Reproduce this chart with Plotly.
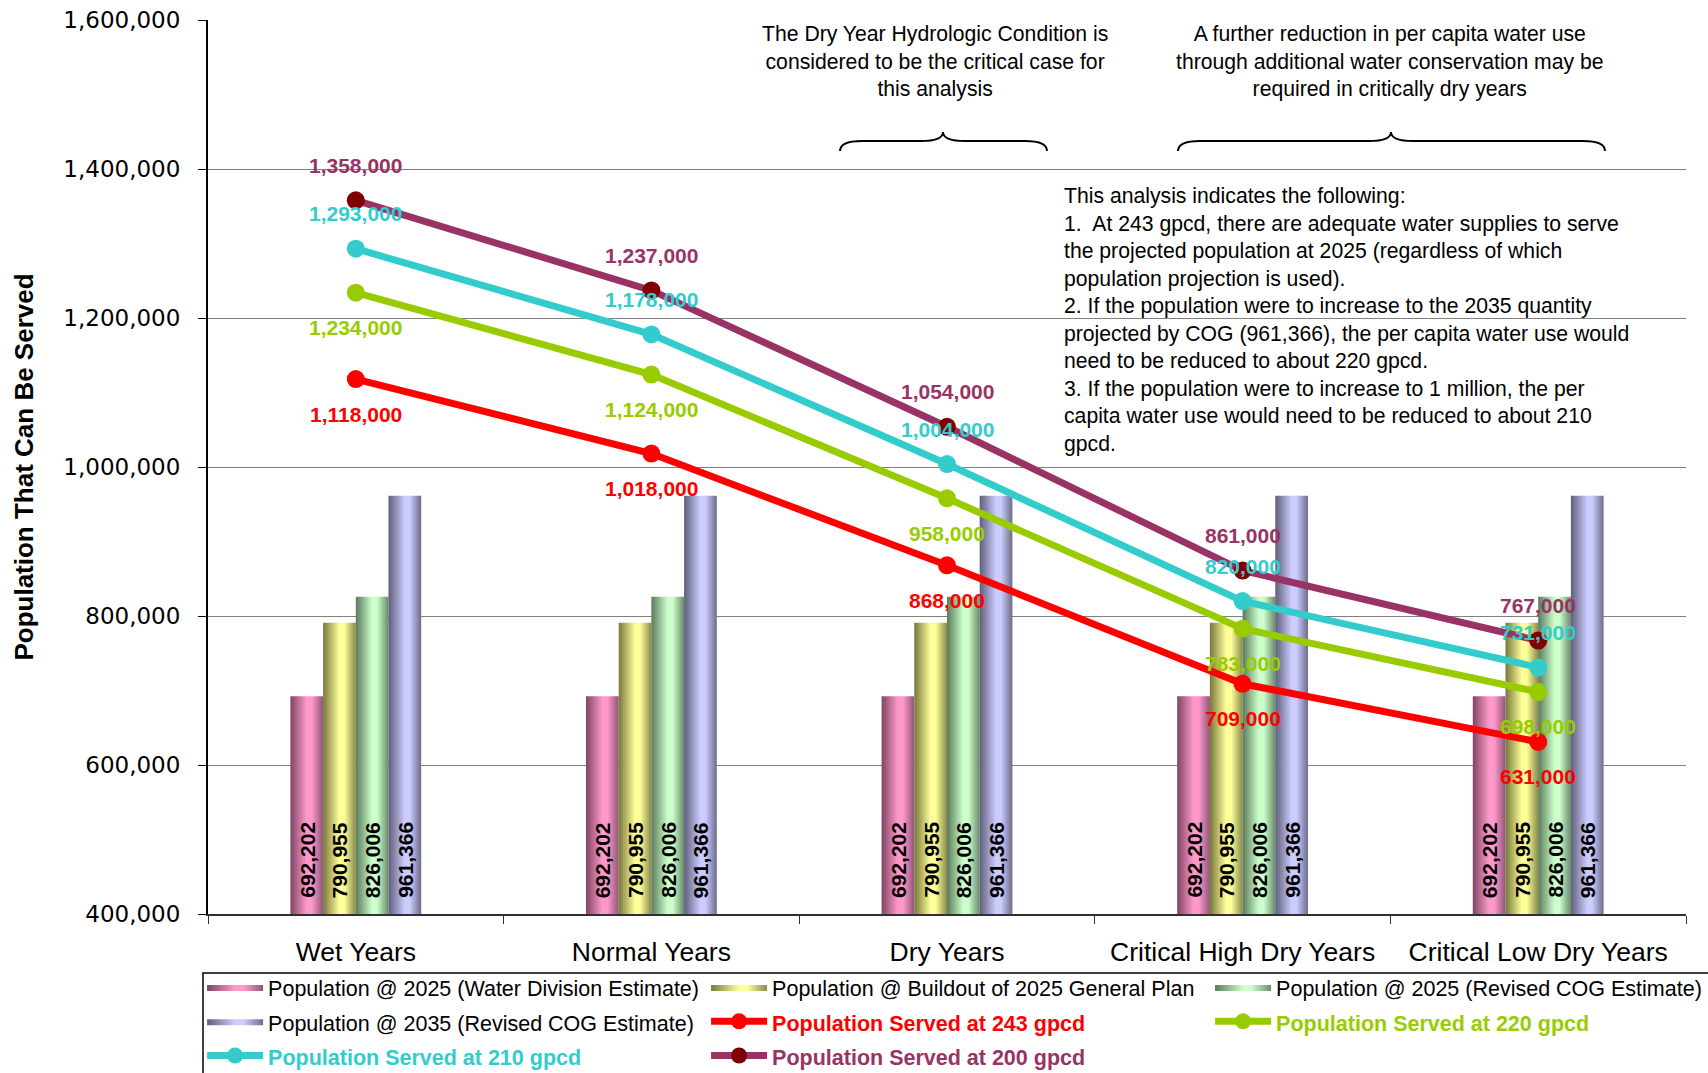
import plotly.graph_objects as go

# ---- data -------------------------------------------------------------
categories = ["Wet Years", "Normal Years", "Dry Years",
              "Critical High Dry Years", "Critical Low Dry Years"]

pop_2025_water_div = [692202, 692202, 692202, 692202, 692202]
pop_buildout_2025 = [790955, 790955, 790955, 790955, 790955]
pop_2025_cog = [826006, 826006, 826006, 826006, 826006]
pop_2035_cog = [961366, 961366, 961366, 961366, 961366]

served_243 = [1118000, 1018000, 868000, 709000, 631000]
served_220 = [1234000, 1124000, 958000, 783000, 698000]
served_210 = [1293000, 1178000, 1004000, 820000, 731000]
served_200 = [1358000, 1237000, 1054000, 861000, 767000]

y_ticks = [400000, 600000, 800000, 1000000, 1200000, 1400000, 1600000]

# ---- styling ----------------------------------------------------------
W, H = 1708, 1073
M_L, M_R, M_T, M_B = 208, 22, 20, 159
PLOT_W = W - M_L - M_R
PLOT_H = H - M_T - M_B

FONT = "Liberation Sans, Arial, sans-serif"
TICK_FONT = "DejaVu Sans, Verdana, sans-serif"

bar_series = [
    ("Population @ 2025 (Water Division Estimate)", pop_2025_water_div,
     ["#7d4563", "#ff99cc", "#ff99cc", "#8f5676"]),
    ("Population @ Buildout of 2025 General Plan", pop_buildout_2025,
     ["#77773c", "#ffff99", "#ffff99", "#8a8a4a"]),
    ("Population @ 2025 (Revised COG Estimate)", pop_2025_cog,
     ["#5b7a5b", "#ccffcc", "#ccffcc", "#6a8a6a"]),
    ("Population @ 2035 (Revised COG Estimate)", pop_2035_cog,
     ["#5e5e7a", "#ccccff", "#ccccff", "#6c6c8a"]),
]

line_series = [
    ("Population Served at 243 gpcd", served_243, "#ff0000", "#ff0000", -1),
    ("Population Served at 220 gpcd", served_220, "#99cc00", "#99cc00", -1),
    ("Population Served at 210 gpcd", served_210, "#33cccc", "#33cccc", 1),
    ("Population Served at 200 gpcd", served_200, "#993366", "#800000", 1),
]

BAR_W = 0.1106  # width of one bar in category units


def legend_label(text, color="black", bold=False):
    inner = f"<span style='font-size:21.5px;color:{color}'>{text}</span>"
    return f"<b>{inner}</b>" if bold else inner


fig = go.Figure()

# ---- shaded (cylinder-like) bars --------------------------------------
annotations = []
for j, (name, values, shades) in enumerate(bar_series):
    off = (j - 1.5) * BAR_W
    for i, v in enumerate(values):
        x0, x1 = i + off - BAR_W / 2, i + off + BAR_W / 2
        fig.add_trace(go.Scatter(
            x=[x0, x1, x1, x0, x0], y=[0, 0, v, v, 0],
            mode="lines", fill="toself",
            line=dict(width=0, color=shades[0]),
            fillgradient=dict(type="horizontal",
                              colorscale=[[0, shades[0]], [0.5, shades[1]],
                                          [0.65, shades[2]], [1, shades[3]]]),
            name=legend_label(name), legendgroup=name, showlegend=(i == 0),
            hoverinfo="skip",
        ))
        annotations.append(dict(
            x=i + off, y=y_ticks[0], xref="x", yref="y",
            text=f"{v:,}", textangle=-90, showarrow=False,
            xanchor="center", yanchor="bottom", yshift=14,
            font=dict(family=FONT, size=21, color="black", weight="bold"),
        ))

# ---- served-population lines -----------------------------------------
x_idx = list(range(len(categories)))
for name, values, lcolor, mcolor, side in line_series:
    fig.add_trace(go.Scatter(
        x=x_idx, y=values, mode="lines+markers",
        line=dict(color=lcolor, width=7),
        marker=dict(color=mcolor, size=18),
        name=legend_label(name, lcolor, bold=True),
        hoverinfo="skip",
    ))
    for i, v in enumerate(values):
        annotations.append(dict(
            x=i, y=v, xref="x", yref="y", text=f"{v:,}", showarrow=False,
            yshift=35 * side, xanchor="center", yanchor="middle",
            font=dict(family=FONT, size=21, color=lcolor, weight="bold"),
        ))


# ---- notes and braces -------------------------------------------------
def px_x(px):
    return (px - M_L) / PLOT_W


def px_y(py):
    return (H - M_B - py) / PLOT_H


note_font = dict(family=FONT, size=21.2, color="black")
annotations.append(dict(
    x=px_x(935), y=px_y(61), xref="paper", yref="paper",
    xanchor="center", yanchor="middle", align="center", showarrow=False,
    text="The Dry Year Hydrologic Condition is<br>"
         "considered to be the critical case for<br>this analysis",
    font=note_font))
annotations.append(dict(
    x=px_x(1390), y=px_y(61), xref="paper", yref="paper",
    xanchor="center", yanchor="middle", align="center", showarrow=False,
    text="A further reduction in per capita water use<br>"
         "through additional water conservation may be<br>"
         "required in critically dry years",
    font=note_font))
annotations.append(dict(
    x=px_x(1062), y=px_y(320), xref="paper", yref="paper",
    xanchor="left", yanchor="middle", align="left", showarrow=False,
    text="This analysis indicates the following:<br>"
         "1.  At 243 gpcd, there are adequate water supplies to serve<br>"
         "the projected population at 2025 (regardless of which<br>"
         "population projection is used).<br>"
         "2. If the population were to increase to the 2035 quantity<br>"
         "projected by COG (961,366), the per capita water use would<br>"
         "need to be reduced to about 220 gpcd.<br>"
         "3. If the population were to increase to 1 million, the per<br>"
         "capita water use would need to be reduced to about 210<br>"
         "gpcd.",
    font=note_font))


def brace(xl, xc, xr, y_top, y_mid, y_end, r=22):
    pts = [
        f"M{px_x(xl)},{px_y(y_end)}",
        f"Q{px_x(xl)},{px_y(y_mid)} {px_x(xl + r)},{px_y(y_mid)}",
        f"L{px_x(xc - r)},{px_y(y_mid)}",
        f"Q{px_x(xc)},{px_y(y_mid)} {px_x(xc)},{px_y(y_top)}",
        f"Q{px_x(xc)},{px_y(y_mid)} {px_x(xc + r)},{px_y(y_mid)}",
        f"L{px_x(xr - r)},{px_y(y_mid)}",
        f"Q{px_x(xr)},{px_y(y_mid)} {px_x(xr)},{px_y(y_end)}",
    ]
    return dict(type="path", xref="paper", yref="paper", path=" ".join(pts),
                line=dict(color="black", width=2))


shapes = [
    brace(840, 943, 1047, 132, 141, 151),
    brace(1178, 1391, 1605, 132, 141, 151),
    # frame around the legend, running past the lower and right page edges
    dict(type="rect", xref="paper", yref="paper", layer="below",
         x0=px_x(203), x1=px_x(1715), y0=px_y(1080), y1=px_y(973),
         line=dict(color="black", width=1.5), fillcolor="rgba(0,0,0,0)"),
]

# ---- layout -----------------------------------------------------------
fig.update_layout(
    width=W, height=H,
    margin=dict(l=M_L, r=M_R, t=M_T, b=M_B, autoexpand=False),
    paper_bgcolor="white", plot_bgcolor="white",
    font=dict(family=FONT, size=21, color="black"),
    showlegend=True,
    legend=dict(
        orientation="h", x=-0.004, y=px_y(965), xanchor="left", yanchor="top",
        entrywidth=433, entrywidthmode="pixels", itemwidth=56,
        borderwidth=0, bgcolor="rgba(0,0,0,0)",
        font=dict(family=FONT, size=24, color="black"),
        traceorder="normal",
    ),
    xaxis=dict(
        range=[-0.5, 4.5], tickmode="array", tickvals=x_idx,
        ticktext=categories, ticks="", showgrid=False, zeroline=False,
        showline=True, linecolor="#303030", linewidth=2,
        tickfont=dict(family=FONT, size=26.5, color="black"),
        ticklabelstandoff=13,
        minor=dict(tickmode="array",
                   tickvals=[-0.5, 0.5, 1.5, 2.5, 3.5, 4.5],
                   ticks="outside", ticklen=8, tickcolor="#303030",
                   tickwidth=1, showgrid=False),
    ),
    yaxis=dict(
        range=[y_ticks[0], y_ticks[-1]], tickmode="array", tickvals=y_ticks,
        tickformat=",d", ticks="outside", ticklen=8, tickcolor="black",
        showgrid=True, gridcolor="#808080", gridwidth=1, zeroline=False,
        showline=True, linecolor="black", linewidth=2,
        tickfont=dict(family=TICK_FONT, size=23, color="black"),
        ticklabelstandoff=13,
        title=dict(text="<b>Population That Can Be Served</b>",
                   font=dict(family=FONT, size=26, color="black"),
                   standoff=22),
    ),
    annotations=annotations,
    shapes=shapes,
)

fig.write_html("out.html")
